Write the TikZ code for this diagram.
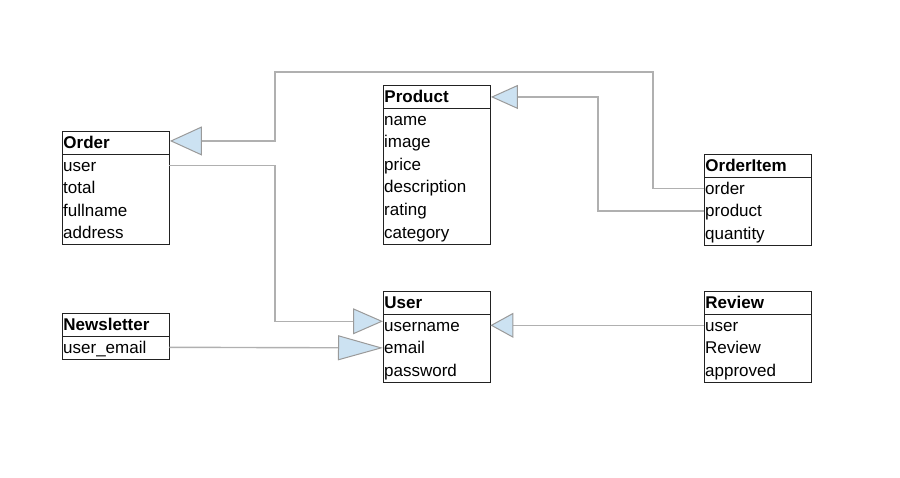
\documentclass[tikz,border=0pt]{standalone}
\usepackage{fontspec}
\setmainfont{Liberation Sans}
\usetikzlibrary{arrows.meta}
\definecolor{linegray}{HTML}{B0B0B0}
\definecolor{tipgray}{HTML}{9A9A9A}
\definecolor{tipblue}{HTML}{CCE2F2}
\definecolor{boxline}{HTML}{222222}
\begin{document}
\begin{tikzpicture}[x=1pt,y=-1pt,
  hdr/.style={draw=boxline, line width=0.9pt, minimum height=23pt, inner xsep=1pt, inner ysep=0pt,
    text width=105pt, align=left, anchor=north west, text height=13.5pt, text depth=2pt,
    font=\fontsize{17}{20}\selectfont\bfseries},
  body/.style={draw=boxline, line width=0.9pt, minimum width=107pt, inner sep=0pt, anchor=north west},
  row/.style={inner xsep=1pt, inner ysep=0pt, text width=105pt, align=left, anchor=west,
    minimum height=22.6pt, text height=13.5pt, text depth=2pt, font=\fontsize{17}{20}\selectfont},
  conn/.style={draw=linegray, line width=1.4pt},
  tip/.style 2 args={-{Triangle[length=#1pt,width=#2pt,fill=tipblue,color=tipgray,line width=1pt]}}
]
\useasboundingbox (0,0) rectangle (900,477);

% Order
\node[hdr] (order) at (62,131) {Order};
\node[body, minimum height=90.4pt] (order-box) at (62,154) {};
\node[row] (order-user) at (62,165.3) {user};
\node[row] (order-total) at (62,187.9) {total};
\node[row] (order-fullname) at (62,210.5) {fullname};
\node[row] (order-address) at (62,233.1) {address};

% Product
\node[hdr] (prod) at (383,85) {Product};
\node[body, minimum height=135.6pt] (prod-box) at (383,108) {};
\node[row] (prod-name) at (383,119.3) {name};
\node[row] (prod-image) at (383,141.9) {image};
\node[row] (prod-price) at (383,164.5) {price};
\node[row] (prod-desc) at (383,187.1) {description};
\node[row] (prod-rating) at (383,209.7) {rating};
\node[row] (prod-cat) at (383,232.3) {category};

% OrderItem
\node[hdr] (oi) at (704,154) {OrderItem};
\node[body, minimum height=67.8pt] (oi-box) at (704,177) {};
\node[row] (oi-order) at (704,188.3) {order};
\node[row] (oi-product) at (704,210.9) {product};
\node[row] (oi-quantity) at (704,233.5) {quantity};

% User
\node[hdr] (user) at (383,291) {User};
\node[body, minimum height=67.8pt] (user-box) at (383,314) {};
\node[row] (user-username) at (383,325.3) {username};
\node[row] (user-email) at (383,347.9) {email};
\node[row] (user-password) at (383,370.5) {password};

% Newsletter
\node[hdr] (nl) at (62,313) {Newsletter};
\node[body, minimum height=22.6pt] (nl-box) at (62,336) {};
\node[row] (nl-email) at (62,347.3) {user\_email};

% Review
\node[hdr] (rev) at (704,291) {Review};
\node[body, minimum height=67.8pt] (rev-box) at (704,314) {};
\node[row] (rev-user) at (704,325.3) {user};
\node[row] (rev-review) at (704,347.9) {Review};
\node[row] (rev-approved) at (704,370.5) {approved};

% Connectors
\coordinate (c1a) at (653,72);
\coordinate (c1b) at (275,72);
\draw[conn, tip={32}{29}] (oi-order.west) -| (c1a) -- (c1b) |- ([yshift=2pt]order.east);
\draw[conn, tip={27}{24}] (oi-product.west) -| ([xshift=107pt]prod.east) -- (prod.east);
\draw[conn, tip={30}{26}] (order-user.east) -| ([xshift=-108pt,yshift=4pt]user-username.west) -- ([yshift=4pt]user-username.west);
\draw[conn, tip={45}{25}] (nl-email.east) -- (user-email.west);
\draw[conn, tip={23}{25}] (rev-user.west) -- (user-username.east);
\end{tikzpicture}
\end{document}
